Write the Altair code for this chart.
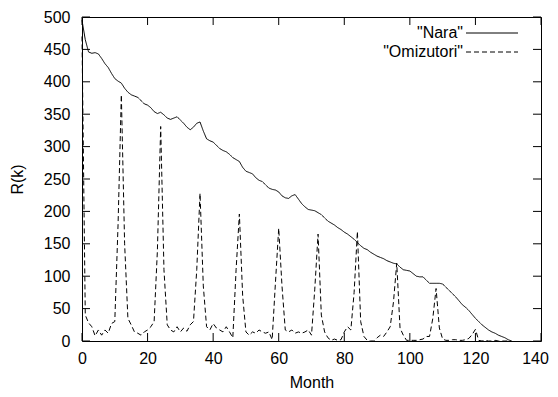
import altair as alt
import pandas as pd

# ---------------- data ----------------
months = list(range(132))

nara = [
    495, 465, 446, 444, 445, 443, 436, 428, 422, 413,
    405, 401, 398, 390, 384, 380, 378, 376, 371, 366,
    364, 360, 354, 351, 353, 349, 344, 342, 344, 346,
    341, 336, 330, 326, 330, 336, 338, 324, 312, 309,
    307, 302, 297, 294, 292, 288, 283, 280, 277, 268,
    262, 260, 258, 252, 248, 246, 241, 236, 234, 233,
    230, 224, 221, 220, 224, 226, 219, 212, 207, 203,
    202, 201, 198, 195, 190, 185, 182, 179, 175, 172,
    168, 165, 161, 157, 152, 147, 143, 141, 137, 134,
    131, 129, 127, 124, 122, 120, 119, 114, 110, 109,
    108, 104, 100, 99, 99, 94, 89, 89, 89, 89,
    88, 83, 78, 73, 68, 62, 56, 52, 47, 41,
    35, 30, 25, 21, 17, 14, 12, 9, 7, 5,
    2, 0,
]

omizutori = [
    470, 40, 28, 22, 8, 17, 9, 17, 12, 27,
    30, 180, 380, 150, 35, 25, 14, 12, 9, 14,
    17, 22, 30, 140, 331, 110, 25, 17, 14, 22,
    14, 20, 15, 25, 30, 110, 228, 85, 22, 17,
    27, 20, 17, 14, 22, 14, 5, 110, 196, 70,
    14, 9, 14, 12, 17, 14, 12, 14, 2, 90,
    174, 85, 17, 14, 17, 12, 14, 12, 14, 17,
    9, 80, 165, 40, 14, 5, 1, 3, 1, 2,
    14, 22, 17, 75, 169, 30, 7, 1, 0, 0,
    5, 9, 7, 14, 22, 60, 120, 20, 9, 1,
    1, 1, 1, 2, 3, 7, 7, 35, 81, 20,
    3, 1, 1, 2, 2, 1, 1, 2, 4, 10,
    18, 1, 0, 1, 0, 0, 1, 0, 0, 0,
    0, 0,
]

series_names = ['"Nara"', '"Omizutori"']
x_ticks = [0, 20, 40, 60, 80, 100, 120, 140]
y_ticks = [0, 50, 100, 150, 200, 250, 300, 350, 400, 450, 500]

# ---------------- style ----------------
W, H = 459, 324
FONT = "Liberation Sans"
FS = 16
TICK = 8
dashes = [[1, 0], [5, 3]]

x_scale = alt.Scale(domain=[0, 140], nice=False, zero=False)
y_scale = alt.Scale(domain=[0, 500], nice=False, zero=False)

x_axis = alt.Axis(values=x_ticks, ticks=False, tickSize=0, domain=False, grid=False,
                  labelFlush=False, labelOverlap=False,
                  labelOffset={"condition": {"test": "datum.value == 140", "value": -6}, "value": 0},
                  labelFont=FONT, labelFontSize=FS, labelColor="black", labelPadding=9,
                  title="Month", titleFont=FONT, titleFontSize=FS, titleFontWeight="normal",
                  titleColor="black", titlePadding=8)
y_axis = alt.Axis(values=y_ticks, ticks=False, tickSize=0, domain=False, grid=False,
                  labelFlush=False, labelOverlap=False,
                  labelFont=FONT, labelFontSize=FS, labelColor="black", labelPadding=12,
                  title="R(k)", titleFont=FONT, titleFontSize=FS, titleFontWeight="normal",
                  titleColor="black", titlePadding=18)

layers = []
for name, vals, dash in zip(series_names, [nara, omizutori], dashes):
    d = pd.DataFrame({"Month": months, "R": vals})
    layers.append(
        alt.Chart(d).mark_line(color="black", strokeWidth=1, strokeDash=dash).encode(
            x=alt.X("Month:Q", scale=x_scale, axis=x_axis),
            y=alt.Y("R:Q", scale=y_scale, axis=y_axis),
        )
    )

# inward ticks on all four sides
xt = pd.DataFrame({"Month": x_ticks})
yt = pd.DataFrame({"R": y_ticks})
for y0, y1 in [(H, H - TICK), (0, TICK)]:
    layers.append(alt.Chart(xt).mark_rule(color="black", strokeWidth=1).encode(
        x=alt.X("Month:Q", scale=x_scale, axis=x_axis),
        y=alt.value(y0), y2=alt.value(y1)))
for x0, x1 in [(0, TICK), (W - TICK, W)]:
    layers.append(alt.Chart(yt).mark_rule(color="black", strokeWidth=1).encode(
        y=alt.Y("R:Q", scale=y_scale, axis=y_axis),
        x=alt.value(x0), x2=alt.value(x1)))

# gnuplot-style key: label on the left, line sample on the right
KEY_TEXT_X = 381
KEY_LINE_X0, KEY_LINE_X1 = 384, 436
KEY_ROW_Y = [16, 35]
for name, dash, ry in zip(series_names, dashes, KEY_ROW_Y):
    kd = pd.DataFrame({"name": [name]})
    layers.append(alt.Chart(kd).mark_text(align="right", baseline="middle", font=FONT,
                                          fontSize=FS, color="black").encode(
        text="name:N", x=alt.value(KEY_TEXT_X), y=alt.value(ry)))
    layers.append(alt.Chart(kd).mark_rule(color="black", strokeWidth=1, strokeDash=dash).encode(
        x=alt.value(KEY_LINE_X0), x2=alt.value(KEY_LINE_X1), y=alt.value(ry)))

chart = alt.layer(*layers).properties(
    width=W, height=H,
    autosize=alt.AutoSizeParams(type="none"),
    padding={"left": 74, "top": 9, "right": 8, "bottom": 48},
    background="white",
).configure_view(stroke="black", strokeWidth=1)

chart.save("out.html", embed_options={"renderer": "svg", "actions": False})
